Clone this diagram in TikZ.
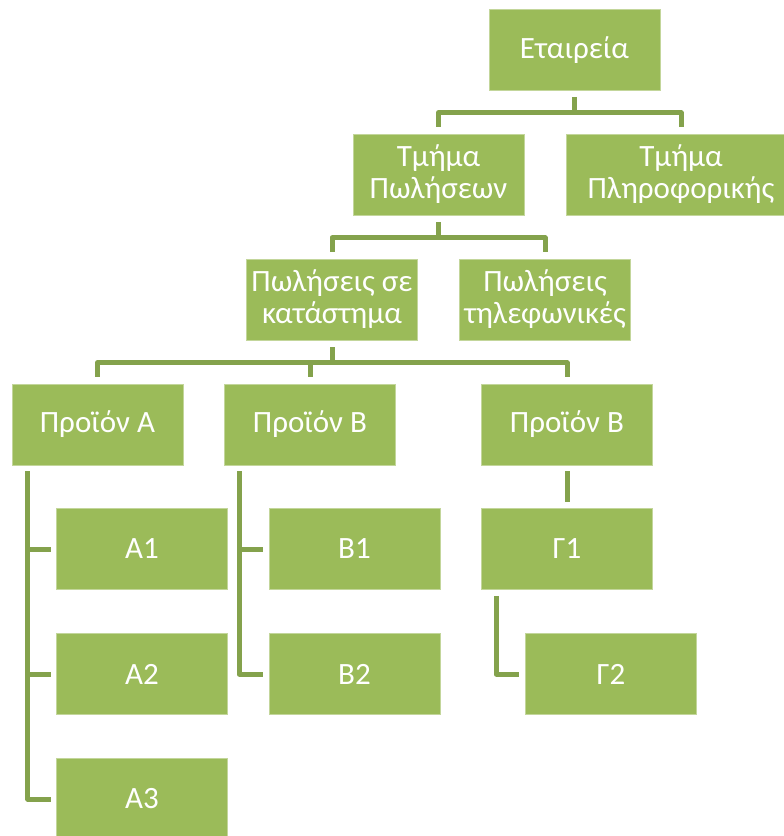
\documentclass[tikz,border=0pt]{standalone}
\usepackage{fontspec}
\setmainfont{Carlito}
\usetikzlibrary{calc}
\definecolor{boxgreen}{HTML}{9BBB59}
\definecolor{linegreen}{HTML}{84A24C}

\begin{document}
\begin{tikzpicture}[x=1pt,y=-1pt,
    unit/.style={fill=boxgreen, draw=boxgreen!60!white, line width=0.6pt,
      text=white, minimum width=171pt, minimum height=81pt, inner sep=0pt,
      align=center, font=\fontsize{31}{32}\selectfont},
    conn/.style={draw=linegreen, line width=5pt, line join=round}]
    % Page frame
    \useasboundingbox (0,0) rectangle (784,836);
    \clip (0,0) rectangle (784,836);
    % Top of the tree
    \node[unit] (root) at (574.5,50) {Εταιρεία};
    % Departments
    \node[unit] (sales) at (438.5,174.5) {Τμήμα\\Πωλήσεων};
    \node[unit, minimum width=230pt] (it) at (681,174.5) {Τμήμα\\Πληροφορικής};
    % Kinds of sales
    \node[unit] (store) at (332,299.5) {Πωλήσεις σε\\κατάστημα};
    \node[unit] (phone) at (545,299.5) {Πωλήσεις\\τηλεφωνικές};
    % Products
    \node[unit] (pa) at (97.5,424.5) {Προϊόν Α};
    \node[unit] (pb) at (310,424.5) {Προϊόν Β};
    \node[unit] (pg) at (567,424.5) {Προϊόν Β};
    % Items of each product
    \node[unit] (a1) at (142,549) {Α1};
    \node[unit] (a2) at (142,674) {Α2};
    \node[unit] (a3) at (142,799) {Α3};
    \node[unit] (b1) at (354.5,549) {Β1};
    \node[unit] (b2) at (354.5,674) {Β2};
    \node[unit] (g1) at (567,549) {Γ1};
    \node[unit] (g2) at (611,674) {Γ2};
    % Connectors between the levels
    \draw[conn] ($(root.south)+(0,6)$) -- ++(0,16) coordinate (rj);
    \draw[conn] ($(sales.north)+(0,-7)$) |- (rj) -| ($(it.north)+(0,-7)$);
    \draw[conn] ($(sales.south)+(0,7)$) -- ++(0,15.5) coordinate (sj);
    \draw[conn] ($(store.north)+(0,-7)$) |- (sj) -| ($(phone.north)+(0,-7)$);
    \draw[conn] ($(store.south)+(0,7)$) -- ++(0,15.5) coordinate (kj);
    \draw[conn] ($(pa.north)+(0,-7)$) |- (kj) -| ($(pg.north)+(0,-7)$);
    \draw[conn] ($(pb.north)+(0,-7)$) -- ($(pb.north)+(0,-21)$);
    % Hanging lists under the products
    \draw[conn] ($(pa.south west)+(16,6)$) coordinate (ha) |- ($(a3.west)+(-5,0)$);
    \draw[conn] (ha |- a1.west) -- ($(a1.west)+(-5,0)$);
    \draw[conn] (ha |- a2.west) -- ($(a2.west)+(-5,0)$);
    \draw[conn] ($(pb.south west)+(15,6)$) coordinate (hb) |- ($(b2.west)+(-6,0)$);
    \draw[conn] (hb |- b1.west) -- ($(b1.west)+(-6,0)$);
    \draw[conn] ($(pg.south)+(0,6)$) -- ($(g1.north)+(0,-6)$);
    \draw[conn] ($(g1.south west)+(15,6)$) |- ($(g2.west)+(-6,0)$);
\end{tikzpicture}
\end{document}
